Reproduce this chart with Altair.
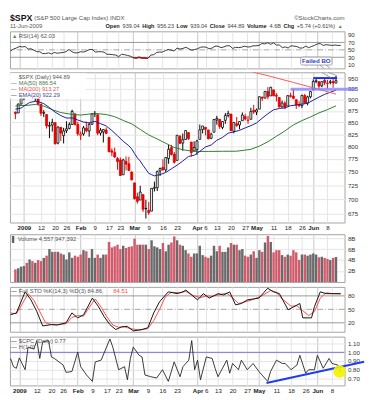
import altair as alt
import pandas as pd

FONT = "Liberation Sans"

# ---------------- data (trading-day index: 0 = 2 Jan 2009) ----------------
DAYS = list(range(-3, 111))
OPEN = [872.37, 870.58, 890.59,
        902.99, 929.17, 931.17, 927.45, 905.73, 909.91, 890.40, 869.79, 867.28, 841.99,
        844.45, 849.64, 806.77, 839.74, 822.16, 832.50, 837.30, 845.73, 868.89, 845.69,
        823.09, 825.69, 837.77, 831.75, 846.09, 868.24, 866.87, 827.41, 829.91, 833.95,
        818.61, 791.06, 787.91, 775.87, 773.25, 744.69, 770.64, 765.76, 749.93,
        729.57, 704.44, 698.60, 708.27, 684.04, 680.76, 679.28, 719.59, 720.89, 751.97,
        758.84, 753.88, 776.01, 797.92, 784.58, 772.31, 820.60, 806.81, 814.06, 828.68, 809.07, 790.88,
        793.59, 814.53, 835.13, 839.75, 834.12, 816.76, 829.29, 855.33, 856.88, 839.44,
        854.54, 865.18, 868.27, 831.25, 847.26, 844.62, 853.91, 862.82, 854.48, 856.85, 876.59,
        872.74, 879.21, 906.10, 903.95, 919.58, 909.03, 922.99, 910.52, 905.40, 884.24,
        892.76, 886.07, 909.67, 908.62, 900.42, 888.68, 887.00, 909.95, 892.96, 907.02,
        923.26, 942.87, 942.51, 932.49, 945.67, 938.12, 940.35, 942.73, 939.04]
HIGH = [873.70, 891.12, 910.32,
        934.73, 936.63, 943.85, 927.45, 910.00, 911.93, 890.40, 877.02, 867.28, 851.59,
        858.13, 849.64, 841.72, 839.74, 838.61, 852.53, 850.45, 877.86, 868.89, 851.66,
        830.78, 842.60, 851.85, 850.55, 870.75, 875.01, 868.05, 838.22, 835.48, 839.43,
        818.61, 796.17, 797.58, 778.69, 777.85, 775.49, 780.12, 779.42, 751.27,
        729.57, 711.67, 724.12, 708.27, 699.09, 695.27, 719.60, 731.92, 752.63, 758.29,
        774.53, 778.12, 803.04, 803.24, 788.91, 823.37, 823.65, 826.78, 832.98, 828.68, 809.07, 810.48,
        813.62, 845.61, 842.50, 839.75, 834.12, 828.42, 856.91, 864.31, 856.88, 852.93,
        870.35, 875.63, 868.27, 850.09, 861.78, 852.87, 871.80, 868.83, 864.48, 882.06, 888.70,
        880.48, 907.85, 907.70, 920.28, 929.58, 930.17, 922.99, 915.57, 905.40, 898.36,
        896.97, 910.00, 916.39, 924.60, 900.42, 896.65, 911.76, 913.84, 909.45, 920.02,
        947.77, 949.38, 942.51, 942.47, 951.69, 946.33, 946.92, 949.77, 956.23]
LOW = [857.07, 870.58, 889.67,
       899.35, 919.53, 927.28, 902.37, 896.81, 888.31, 864.32, 862.02, 836.93, 817.04,
       830.66, 804.47, 804.30, 811.29, 806.07, 827.69, 835.40, 845.73, 844.15, 821.67,
       812.87, 821.98, 829.18, 819.91, 845.42, 861.65, 822.99, 822.30, 808.06, 825.21,
       789.17, 780.43, 777.03, 754.25, 742.37, 744.69, 752.89, 751.75, 734.52,
       699.70, 692.30, 698.60, 677.93, 666.79, 672.88, 679.28, 713.85, 714.76, 742.46,
       753.37, 749.93, 765.64, 781.82, 766.20, 772.31, 805.48, 791.37, 814.06, 813.43, 779.81, 790.88,
       783.32, 814.53, 826.70, 822.79, 814.53, 814.84, 829.29, 845.35, 836.31, 835.58,
       847.04, 860.87, 832.39, 826.83, 840.57, 835.45, 853.91, 854.65, 847.12, 856.85, 868.51,
       866.10, 879.21, 897.34, 903.95, 901.36, 909.03, 908.68, 896.46, 882.80, 882.52,
       878.94, 886.07, 905.22, 901.37, 879.61, 883.75, 881.46, 891.87, 887.60, 903.56,
       923.26, 938.46, 923.85, 929.32, 934.13, 926.44, 936.15, 927.97, 939.04]
CLOSE = [869.42, 890.64, 903.25,
         931.80, 927.45, 934.70, 906.65, 909.73, 890.35, 870.26, 871.79, 842.62, 843.74,
         850.12, 805.22, 840.24, 827.50, 831.95, 836.57, 845.71, 874.09, 845.14, 825.88,
         825.44, 838.51, 832.23, 845.85, 868.60, 869.89, 827.16, 833.74, 835.19, 826.84,
         789.17, 788.42, 778.94, 770.05, 743.33, 773.14, 764.90, 752.83, 735.09,
         700.82, 696.33, 712.87, 682.55, 683.38, 676.53, 719.60, 721.36, 750.74, 756.55,
         753.89, 778.12, 794.35, 784.04, 768.54, 822.92, 806.12, 813.88, 832.86, 815.94, 787.53, 797.87,
         811.08, 834.38, 842.50, 835.48, 815.55, 825.16, 856.56, 858.73, 841.50, 852.06,
         865.30, 869.60, 832.39, 850.08, 843.55, 851.92, 866.23, 857.51, 855.16, 873.64, 872.81,
         877.52, 907.24, 903.80, 919.53, 907.39, 929.23, 909.24, 908.35, 883.92, 893.07,
         882.88, 909.71, 908.13, 903.47, 888.33, 887.00, 910.33, 893.06, 906.83, 919.14,
         942.87, 944.74, 931.76, 942.46, 940.09, 939.14, 942.43, 939.15, 944.89]
PREV_CLOSE_START = 872.80

VOLUME_B = [2.3, 2.5, 2.8, 2.9, 3.5, 4.1, 3.8, 3.5, 4.0, 3.8,
            4.4, 4.8, 6.0, 5.5, 5.5, 5.5, 5.2, 5.0, 4.1, 5.4,
            4.4, 4.8, 4.6, 5.0, 5.8, 5.6, 4.4, 6.0, 4.4, 5.0,
            4.4, 5.0, 5.0, 7.3, 6.3, 6.5, 6.8, 6.0, 6.6, 6.2,
            6.4, 6.5, 7.9, 6.8, 6.8, 6.8, 6.8, 6.0, 7.6, 6.5,
            6.3, 6.0, 7.1, 5.6, 6.8, 7.2, 8.3, 7.6, 6.8,
            6.6, 5.8, 5.2, 4.6, 5.2, 5.2, 6.6, 4.9, 4.6, 4.4,
            4.8, 6.6, 5.6, 6.6, 5.5, 5.5, 6.3, 7.1, 6.8, 6.8,
            5.8, 6.0, 4.8, 4.6, 5.0, 5.6, 4.4, 5.8, 5.5, 7.2,
            8.4, 7.3, 5.4, 5.8, 5.8, 4.9, 4.6, 5.0, 4.8, 5.8,
            5.4, 4.0, 5.0, 5.0, 4.8, 5.0, 5.2, 5.0, 4.5, 4.6,
            4.4, 4.2, 4.0, 4.4, 4.56]

RSI = [47, 52, 55,
       59, 58, 59, 52, 53, 49, 45, 45, 40, 40, 42, 39, 43, 41, 42, 43, 45, 51, 45, 42,
       42, 45, 44, 47, 51, 51, 44, 45, 45, 44, 38, 38, 37, 36, 32, 38, 37, 35, 33,
       29, 28, 30, 28, 28, 27, 36, 37, 43, 44, 44, 48, 51, 49, 47, 55, 52, 54, 57, 53, 49, 51,
       53, 57, 58, 57, 53, 55, 60, 60, 56, 58, 61, 61, 54, 57, 56, 57, 60, 58, 58, 61, 61,
       62, 67, 66, 69, 65, 69, 63, 63, 56, 58, 55, 61, 60, 59, 55, 55, 60, 56, 59, 62,
       66, 67, 62, 64, 63, 62, 63, 62, 62.03]

MA50_I = [-3, -1, 1, 4, 7, 10, 13, 16, 20, 25, 29, 32, 35, 38, 41, 44, 47, 50, 53, 56,
          60, 65, 70, 75, 80, 83, 86, 89, 92, 95, 98, 101, 104, 107, 110]
MA50_V = [886, 887.3, 887.4, 889.8, 886, 877.9, 871.6, 868.5, 866, 869.8,
          867.3, 862.6, 854.4, 847, 835.2, 823.6, 815.2, 806.4, 797.9, 793.4,
          790, 790, 790.3, 790.4, 794.2, 800.7, 809.6, 820.8, 832.1, 844.9,
          854, 861.9, 870.8, 878.1, 886.54]
EMA_I = [-3, -1, 0, 2, 4, 5, 7, 9, 11, 13, 15, 17, 19, 21, 23, 25, 27, 29, 31, 33,
         35, 37, 38, 39, 40, 41, 42, 43, 44, 45, 46, 48, 50, 52, 54, 56, 58, 60, 62, 64,
         66, 68, 70, 72, 74, 76, 78, 80, 82, 84, 86, 88, 90, 92, 94, 96, 98, 100, 102, 104,
         106, 108, 110]
EMA_V = [879, 881.5, 886, 894, 896.7, 896.2, 891.5, 882.7, 872.5, 865, 859.6, 859.8, 855.3, 851, 849,
         852.5, 847.5, 842.6, 832.8, 822, 810.6, 801.3, 795, 785.7, 777.2, 771, 762.5, 755, 747.5, 745,
         742.7, 745, 749, 756, 763, 771, 780, 782.3, 790, 799, 802.9, 812.5, 818.5, 827.3, 830,
         833.3, 838.4, 843.2, 849, 859.3, 869, 877.6, 880.6, 881.9, 886.8, 888.4, 890.4, 892.2,
         899.3, 906.3, 912.6, 917.6, 922.29]
MA200_I = [78, 81, 85, 90, 95, 100, 105, 110]
MA200_V = [972, 965, 958.5, 949.5, 940.5, 931.5, 922.4, 913.27]

K_I = [-3, -1, 2, 4, 6, 8, 11, 13, 16, 18, 20, 22, 25, 27, 29, 31, 33, 35, 37, 39,
       42, 44, 46, 48, 51, 54, 56, 57, 61, 63, 65, 68, 70, 72, 74, 76, 78, 82, 85, 87,
       89, 92, 94, 96, 97, 100, 101, 103, 105, 110]
K_V = [38, 42, 89, 71, 45, 13, 16, 15, 20, 42, 31, 38, 75, 57, 34, 16, 5, 11, 12, 2,
       5, 9, 42, 67, 89, 85, 89, 93, 71, 85, 75, 85, 82, 89, 60, 63, 71, 75, 97, 89,
       85, 49, 56, 63, 31, 31, 56, 89, 85, 84.86]
D_I = [-3, -1, 1, 3, 5, 7, 9, 11, 13, 16, 18, 20, 22, 24, 26, 28, 30, 32, 34, 36,
       38, 41, 44, 46, 48, 50, 52, 55, 57, 59, 62, 64, 66, 68, 71, 73, 75, 77, 80, 83,
       86, 88, 90, 93, 95, 97, 99, 101, 103, 105, 107, 110]
D_V = [42, 40, 62, 85, 70, 45, 20, 16, 16, 18, 32, 36, 35, 55, 73, 55, 33, 15, 10, 11,
       7, 4, 7, 25, 50, 78, 88, 87, 90, 82, 76, 80, 79, 82, 86, 76, 63, 66, 72, 80,
       92, 88, 73, 57, 58, 47, 36, 45, 75, 87, 85, 84.51]

CPC_I = [-3, -2, -1, 0, 2, 3, 5, 6, 7, 8, 10, 11, 12, 15, 16, 18, 20, 21, 23, 25,
         26, 28, 31, 32, 34, 36, 37, 38, 39, 41, 42, 43, 45, 47, 49, 51, 53, 55, 56, 58,
         59, 60, 61, 62, 64, 66, 67, 68, 71, 72, 73, 75, 76, 78, 80, 82, 85, 86, 88, 90,
         91, 93, 95, 96, 98, 99, 101, 102, 104, 106, 107, 109, 110]
CPC_V = [0.93, 0.835, 0.817, 0.936, 0.80, 1.06, 1.04, 1.135, 0.93, 1.12,
         1.135, 0.947, 0.93, 0.854, 0.77, 0.78, 1.003, 0.835, 0.74, 0.666,
         0.89, 0.91, 1.153, 1.06, 0.80, 0.835, 0.685, 0.93, 1.06, 0.966,
         0.947, 0.74, 0.72, 0.705, 0.80, 0.666, 0.89, 0.72, 0.835, 0.91,
         1.135, 0.80, 0.91, 0.685, 0.947, 0.93, 0.817, 0.72, 0.91, 0.76,
         0.872, 0.80, 0.91, 0.80, 0.872, 0.78, 0.666, 0.78, 0.91, 0.872,
         0.872, 0.80, 0.854, 0.966, 0.76, 0.80, 0.80, 0.966, 0.817, 0.93,
         0.872, 0.854, 0.77]

# annotation levels
RES_LEVEL = [951.0]          # dark blue line (from idx 102)
SUP_LEVEL = [924.5]          # light blue line (from idx 94)
CPC_TREND = [[84.6, 0.647], [118.0, 0.892]]
CIRCLE_AT = [[109.6, 0.78]]

TICK_IDX = [0, 6, 11, 15, 20, 25, 30, 34, 39, 44, 49, 54, 61, 64, 68, 73, 78, 82, 88, 93, 98, 102, 107]
TICK_LBL = ["2009", "12", "20", "26", "Feb", "9", "17", "23", "Mar", "9", "16", "23",
            "Apr", "6", "13", "20", "27", "May", "11", "18", "26", "Jun", "8"]
MONTH_IDX = [0, 20, 39, 61, 82, 102]
PRICE_TICKS = [675, 700, 725, 750, 775, 800, 825, 850, 875, 900, 925, 950]

# ---------------- helpers ----------------
W = 343
xscale = alt.Scale(domain=[-3.2, 111.3], nice=False, zero=False)
LBL_EXPR = ("[" + ",".join("'%s'" % s for s in TICK_LBL) + "][indexof(["
            + ",".join(str(v) for v in TICK_IDX) + "], datum.value)]")
MONTH_TEST = "indexof([" + ",".join(str(v) for v in MONTH_IDX) + "], datum.value) >= 0"


def x_axis(show):
    kw = dict(values=TICK_IDX, tickCount=100, title=None, grid=True, ticks=False, domain=False,
              gridColor={"condition": {"test": MONTH_TEST, "value": "#c6c6c6"}, "value": "#e4e4e4"})
    if show:
        kw.update(labels=True, labelExpr=LBL_EXPR, labelFont=FONT, labelFontSize=6.3, labelColor="#222",
                  labelFontWeight={"condition": {"test": MONTH_TEST, "value": "bold"}, "value": "normal"},
                  labelPadding=2, labelOverlap=False, labelFlush=False, labelBound=False)
    else:
        kw.update(labels=False)
    return alt.Axis(**kw)


def y_axis(values, grid=True, fmt=None, expr=None):
    kw = dict(orient="right", values=values, tickCount=100, grid=grid, gridColor="#e4e4e4",
              ticks=False, domain=False, labelOverlap=False,
              labelFont=FONT, labelFontSize=6.3, labelColor="#333", labelPadding=3, title=None)
    if fmt:
        kw["format"] = fmt
    if expr:
        kw["labelExpr"] = expr
    return alt.Axis(**kw)


def txt(s, x, y, size=6, color="#444", weight="normal", align="left"):
    return alt.Chart(pd.DataFrame({"t": [s]})).mark_text(
        align=align, baseline="middle", font=FONT, fontSize=size, color=color, fontWeight=weight
    ).encode(x=alt.value(x), y=alt.value(y), text="t:N")


def seg(x0, y0, x1, y1, color, width, yscale, clip=False):
    d = pd.DataFrame({"x0": [x0], "y0": [y0], "x1": [x1], "y1": [y1]})
    return alt.Chart(d).mark_rule(color=color, strokeWidth=width, clip=clip).encode(
        x=alt.X("x0:Q", scale=xscale), y=alt.Y("y0:Q", scale=yscale), x2="x1:Q", y2="y1:Q")


# ---------------- frames ----------------
prev = [PREV_CLOSE_START] + CLOSE[:-1]
df = pd.DataFrame({"i": DAYS, "o": OPEN, "h": HIGH, "l": LOW, "c": CLOSE, "vol": VOLUME_B})
df["col"] = ["#000000" if c >= p else "#e60000" for c, p in zip(CLOSE, prev)]
df["fill"] = ["#ffffff" if c > o else col for c, o, col in zip(CLOSE, OPEN, df["col"])]
df["vcol"] = ["#6a6a6a" if c >= p else "#d15a6b" for c, p in zip(CLOSE, prev)]

# ---------------- RSI panel (+ page header) ----------------
rsi_df = pd.DataFrame({"i": DAYS, "v": RSI})
rsi_y = alt.Scale(domain=[0, 100], nice=False, zero=False)
rsi_line = alt.Chart(rsi_df).mark_line(color="#222", strokeWidth=0.9).encode(
    x=alt.X("i:Q", scale=xscale, axis=x_axis(False)),
    y=alt.Y("v:Q", scale=rsi_y, axis=y_axis([10, 30, 50, 70, 90], grid=False)))
rsi_red = alt.Chart(rsi_df).transform_filter("datum.v <= 30.5").mark_line(
    color="#a01818", strokeWidth=1.4).encode(x="i:Q", y="v:Q")
rsi_lv = alt.Chart(pd.DataFrame({"v": [70, 30]})).mark_rule(color="#8c8c8c", strokeWidth=0.9).encode(y="v:Q")
rsi_mid = alt.Chart(pd.DataFrame({"v": [50]})).mark_rule(
    color="#8c8c8c", strokeWidth=0.8, strokeDash=[6, 2, 1, 2]).encode(y="v:Q")

fb_box = alt.Chart(pd.DataFrame({"x0": [96.3], "x1": [107.0], "y0": [9.0], "y1": [30.5]})).mark_rect(
    fill="#ffffff", stroke="#8a8a8a", strokeWidth=0.8, cornerRadius=2).encode(
    x="x0:Q", x2="x1:Q", y="y0:Q", y2="y1:Q")
fb_text = alt.Chart(pd.DataFrame({"x": [101.65], "y": [19.8], "t": ["Failed BO"]})).mark_text(
    font=FONT, fontSize=6.3, fontWeight="bold", color="#2f3fc8").encode(x="x:Q", y="y:Q", text="t:N")

HY = -5.5
rsi = alt.layer(
    rsi_lv, rsi_mid, rsi_line, rsi_red,
    seg(102.8, 9.0, 104.2, 0, "#8a8a8a", 0.8, rsi_y), seg(105.0, 9.0, 106.4, 0, "#8a8a8a", 0.8, rsi_y),
    fb_box, fb_text,
    txt("\u25b2", 2, 5, size=5.5, color="#3a9a3a"), txt("RSI(14) 62.03", 9, 5, color="#555"),
    # page header
    txt("$SPX", 0, -14, size=9, color="#111", weight="bold"),
    txt("(S&P 500 Large Cap Index) INDX", 25, -14, size=6.2, color="#555"),
    txt("\u00a9StockCharts.com", W, -14, size=6.2, color="#555", align="right"),
    txt("11-Jun-2009", 0, HY, size=6, color="#555"),
    txt("Open", 98, HY, size=5.7, weight="bold", color="#222"), txt("939.04", 115.5, HY, size=5.7),
    txt("High", 135.5, HY, size=5.7, weight="bold", color="#222"), txt("956.23", 150.8, HY, size=5.7),
    txt("Low", 170.8, HY, size=5.7, weight="bold", color="#222"), txt("939.04", 184.8, HY, size=5.7),
    txt("Close", 204.8, HY, size=5.7, weight="bold", color="#222"), txt("944.89", 222.9, HY, size=5.7),
    txt("Volume", 242.9, HY, size=5.7, weight="bold", color="#222"), txt("4.6B", 266.1, HY, size=5.7),
    txt("Chg", 280.4, HY, size=5.7, weight="bold", color="#222"), txt("+5.74 (+0.61%)", 294.1, HY, size=5.7),
    txt("\u25b2", 336, HY, size=5, color="#2a9a2a"),
).properties(width=W, height=38)

# ---------------- price panel ----------------
price_y = alt.Scale(type="log", domain=[660, 965], nice=False)
wick = alt.Chart(df).mark_rule(strokeWidth=1).encode(
    x=alt.X("i:Q", scale=xscale, axis=x_axis(True)),
    y=alt.Y("l:Q", scale=price_y, axis=y_axis(PRICE_TICKS)),
    y2="h:Q", color=alt.Color("col:N", scale=None))
body = alt.Chart(df).mark_bar(size=2.0, strokeWidth=0.8).encode(
    x="i:Q", y="o:Q", y2="c:Q",
    fill=alt.Fill("fill:N", scale=None), stroke=alt.Stroke("col:N", scale=None))
ma50 = alt.Chart(pd.DataFrame({"i": MA50_I, "v": MA50_V})).mark_line(
    color="#2e7a2e", strokeWidth=1).encode(x="i:Q", y="v:Q")
ema20 = alt.Chart(pd.DataFrame({"i": EMA_I, "v": EMA_V})).mark_line(
    color="#1c1c9c", strokeWidth=1).encode(x="i:Q", y="v:Q")
ma200 = alt.Chart(pd.DataFrame({"i": MA200_I, "v": MA200_V})).mark_line(
    color="#ff5555", strokeWidth=1, clip=True).encode(x="i:Q", y="v:Q")
sup = alt.Chart(pd.DataFrame({"x0": [94.0], "x1": [117.0], "v": SUP_LEVEL})).mark_rule(
    color="#8080ff", strokeWidth=3, opacity=0.75, clip=False).encode(
    x=alt.X("x0:Q", scale=xscale), x2="x1:Q", y=alt.Y("v:Q", scale=price_y))
res = alt.Chart(pd.DataFrame({"x0": [102.0], "x1": [110.4], "v": RES_LEVEL})).mark_rule(
    color="#1a2aff", strokeWidth=2).encode(
    x=alt.X("x0:Q", scale=xscale), x2="x1:Q", y=alt.Y("v:Q", scale=price_y))
leg_box = alt.Chart(pd.DataFrame({"a": [0]})).mark_rect(fill="#ffffff", opacity=0.95).encode(
    x=alt.value(0), x2=alt.value(78), y=alt.value(1), y2=alt.value(27))

main = alt.layer(
    wick, body, ma50, ema20, ma200, sup, res,
    seg(104.9, 965, 108.2, 952, "#8a8a8a", 0.8, price_y, clip=True),
    seg(107.1, 965, 110.3, 957, "#8a8a8a", 0.8, price_y, clip=True),
    leg_box,
    txt("$SPX (Daily) 944.89", 9, 5, size=5.8, color="#555"),
    txt("\u2014", 1, 11, size=5.8, color="#2e7a2e"), txt("MA(50) 886.54", 9, 11, size=5.8, color="#4a7a4a"),
    txt("\u2014", 1, 17, size=5.8, color="#ff3333"), txt("MA(200) 913.27", 9, 17, size=5.8, color="#e05a5a"),
    txt("\u2014", 1, 23, size=5.8, color="#1c1c9c"), txt("EMA(20) 922.29", 9, 23, size=5.8, color="#3a4a9a"),
).properties(width=W, height=154)

# ---------------- volume panel ----------------
vol_bars = alt.Chart(df).mark_bar(size=2.5).encode(
    x=alt.X("i:Q", scale=xscale, axis=x_axis(False)),
    y=alt.Y("vol:Q", scale=alt.Scale(domain=[0, 8.7], nice=False),
            axis=y_axis([2, 4, 6, 8], expr="datum.value + 'B'")),
    color=alt.Color("vcol:N", scale=None))
vol = alt.layer(
    vol_bars,
    txt("\u258c", 2, 5, size=6, color="#555"), txt("Volume 4,557,947,392", 8, 5, color="#555"),
).properties(width=W, height=49)

# ---------------- full stochastics panel ----------------
sto_y = alt.Scale(domain=[0, 100], nice=False, zero=False)
k_line = alt.Chart(pd.DataFrame({"i": K_I, "v": K_V})).mark_line(color="#111", strokeWidth=1).encode(
    x=alt.X("i:Q", scale=xscale, axis=x_axis(False)),
    y=alt.Y("v:Q", scale=sto_y, axis=y_axis([20, 50, 80], grid=False)))
d_line = alt.Chart(pd.DataFrame({"i": D_I, "v": D_V})).mark_line(color="#ff4a4a", strokeWidth=1).encode(
    x="i:Q", y="v:Q")
sto_lv = alt.Chart(pd.DataFrame({"v": [80, 20]})).mark_rule(color="#8c8c8c", strokeWidth=0.9).encode(y="v:Q")
sto_mid = alt.Chart(pd.DataFrame({"v": [50]})).mark_rule(
    color="#8c8c8c", strokeWidth=0.8, strokeDash=[6, 2, 1, 2]).encode(y="v:Q")
sto = alt.layer(
    sto_lv, sto_mid, d_line, k_line,
    txt("\u2014", 1, 4, color="#111"),
    txt("Full STO %K(14,3) %D(3) 84.86,", 9, 4, color="#555"),
    txt("84.51", 106, 4, color="#ff4a4a"),
).properties(width=W, height=46)

# ---------------- $CPC panel ----------------
cpc_y = alt.Scale(domain=[0.62, 1.18], nice=False, zero=False)
cpc_line = alt.Chart(pd.DataFrame({"i": CPC_I, "v": CPC_V})).mark_line(color="#222", strokeWidth=0.9).encode(
    x=alt.X("i:Q", scale=xscale, axis=x_axis(True)),
    y=alt.Y("v:Q", scale=cpc_y, axis=y_axis([0.7, 0.8, 0.9, 1.0, 1.1], fmt=".2f")))
h_line = alt.Chart(pd.DataFrame({"v": [1.0]})).mark_rule(color="#7474d0", strokeWidth=1).encode(
    y=alt.Y("v:Q", scale=cpc_y))
trend = seg(CPC_TREND[0][0], CPC_TREND[0][1], CPC_TREND[1][0], CPC_TREND[1][1], "#1f3df0", 2, cpc_y)
circle = alt.Chart(pd.DataFrame({"i": [CIRCLE_AT[0][0]], "v": [CIRCLE_AT[0][1]]})).mark_point(
    shape="circle", filled=True, size=170, color="#f2f200", opacity=0.9).encode(
    x=alt.X("i:Q", scale=xscale), y=alt.Y("v:Q", scale=cpc_y))
cpc = alt.layer(
    h_line, cpc_line, trend, circle,
    txt("\u2014", 1, 5, color="#111"), txt("$CPC (Daily) 0.77", 9, 5, color="#555"),
    txt("\u2014", 1, 11, color="#3030c0"), txt("H(1.0)", 9, 11, color="#555"),
).properties(width=W, height=50)

chart = alt.vconcat(rsi, main, vol, sto, cpc, spacing=2).properties(
    padding=0, background="#ffffff"
).configure_view(stroke="#a4a4a4", strokeWidth=1)

chart.save("out.html", embed_options={"renderer": "svg", "actions": False})
